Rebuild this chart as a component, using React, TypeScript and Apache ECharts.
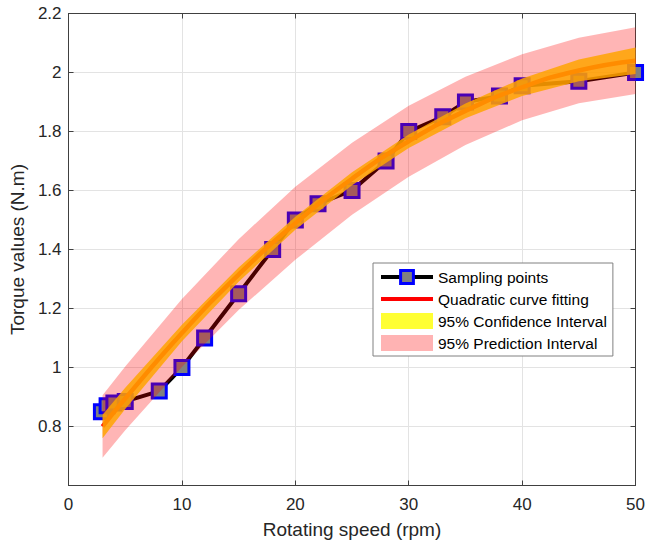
import React, { useEffect, useRef } from 'react';
import * as echarts from 'echarts';

// Sampling points
const sampleX = [2.9, 3.4, 4, 5, 8, 10, 12, 15, 18, 20, 22, 25, 28, 30, 33, 35, 38, 40, 45, 50];
const sampleY = [0.85, 0.87, 0.88, 0.885, 0.92, 1.0, 1.1, 1.25, 1.4, 1.5, 1.555, 1.6, 1.7, 1.8, 1.85, 1.9, 1.92, 1.955, 1.97, 2.0];

// Quadratic fit curve, read at these speeds
const fitX = [3, 5, 10, 15, 20, 25, 30, 35, 40, 45, 50];
const fitY = [0.8, 0.895, 1.117, 1.315, 1.489, 1.64, 1.767, 1.87, 1.95, 2.007, 2.04];

// 95% confidence interval bounds
const confUpper = [0.84, 0.931, 1.145, 1.339, 1.511, 1.662, 1.79, 1.895, 1.98, 2.044, 2.085];
const confLower = [0.76, 0.859, 1.089, 1.291, 1.467, 1.618, 1.744, 1.845, 1.92, 1.97, 1.995];

// 95% prediction interval bounds
const predUpper = [0.906, 1.003, 1.232, 1.435, 1.613, 1.762, 1.887, 1.986, 2.062, 2.118, 2.153];
const predLower = [0.694, 0.787, 1.002, 1.195, 1.365, 1.518, 1.647, 1.754, 1.838, 1.896, 1.927];

const legendNames = ['Sampling points', 'Quadratic curve fitting', '95% Confidence Interval', '95% Prediction Interval'];

const FONT = 'Liberation Sans, Arial, sans-serif';
const AXIS_COLOR = '#404040';

export default function App() {
  const ref = useRef<HTMLDivElement>(null);
  useEffect(() => {
    document.body.style.margin = '0';
    const chart = echarts.init(ref.current as HTMLDivElement, null, { renderer: 'svg' });

    const band = (upper: number[], lower: number[], fill: string) => (params: any, api: any) => {
      if (params.dataIndex !== 0) return null;
      const pts: number[][] = [];
      for (let i = 0; i < fitX.length; i++) pts.push(api.coord([fitX[i], upper[i]]));
      for (let i = fitX.length - 1; i >= 0; i--) pts.push(api.coord([fitX[i], lower[i]]));
      return { type: 'polygon', shape: { points: pts }, style: { fill, stroke: 'none' } };
    };

    const axisCommon = {
      axisLine: { show: true, onZero: false, lineStyle: { color: AXIS_COLOR, width: 1 } },
      axisTick: { show: true, inside: true, length: 5, lineStyle: { color: AXIS_COLOR } },
    };

    chart.setOption({
      animation: false,
      backgroundColor: '#ffffff',
      grid: { left: 63, right: 11.5, top: 13.5, bottom: 62.5, containLabel: false },
      xAxis: [
        {
          type: 'value', min: 0, max: 50, interval: 10, position: 'bottom',
          ...axisCommon,
          axisLabel: { fontSize: 17, color: '#262626', fontFamily: FONT, margin: 10 },
          splitLine: { show: true, lineStyle: { color: '#e3e3e3', width: 1 } },
          name: 'Rotating speed (rpm)', nameLocation: 'middle', nameGap: 34,
          nameTextStyle: { fontSize: 19, color: '#262626', fontFamily: FONT },
        },
        {
          type: 'value', min: 0, max: 50, interval: 10, position: 'top',
          ...axisCommon,
          axisLabel: { show: false }, splitLine: { show: false },
        },
      ],
      yAxis: [
        {
          type: 'value', min: 0.6, max: 2.2, interval: 0.2, position: 'left',
          ...axisCommon,
          axisLabel: {
            fontSize: 17, color: '#262626', fontFamily: FONT, margin: 7,
            formatter: (v: number) => (v < 0.65 ? '' : String(Math.round(v * 10) / 10)),
          },
          splitLine: { show: true, lineStyle: { color: '#e3e3e3', width: 1 } },
          name: 'Torque values (N.m)', nameLocation: 'middle', nameGap: 35,
          nameTextStyle: { fontSize: 19, color: '#262626', fontFamily: FONT },
        },
        {
          type: 'value', min: 0.6, max: 2.2, interval: 0.2, position: 'right',
          ...axisCommon,
          axisLabel: { show: false }, splitLine: { show: false },
        },
      ],
      legend: {
        orient: 'vertical', left: 373, top: 263,
        padding: [6, 6, 5, 6], itemGap: 6, itemWidth: 52, itemHeight: 16,
        backgroundColor: '#ffffff', borderColor: '#808080', borderWidth: 1,
        selectedMode: false,
        textStyle: { fontSize: 15.5, color: '#000', fontFamily: FONT, padding: [0, 0, 0, 0] },
        data: [
          { name: legendNames[0], itemStyle: { color: '#808080', borderColor: '#0000ff', borderWidth: 3 }, lineStyle: { color: '#000', width: 4 } },
          { name: legendNames[1], icon: 'path://M0,0 L52,0 L52,4 L0,4 Z', itemStyle: { color: '#ff0000' } },
          { name: legendNames[2], icon: 'rect', itemStyle: { color: '#ffff33' } },
          { name: legendNames[3], icon: 'rect', itemStyle: { color: '#ffb3b3' } },
        ],
      },
      series: [
        {
          name: legendNames[0], type: 'line', clip: false,
          data: sampleX.map((x, i) => [x, sampleY[i]]),
          symbol: 'rect', symbolSize: 14,
          lineStyle: { color: '#000', width: 4 },
          itemStyle: { color: '#808080', borderColor: '#0000ff', borderWidth: 3 },
          z: 2,
        },
        {
          name: legendNames[3], type: 'custom', silent: true,
          data: [[fitX[0], fitY[0]]], encode: { x: 0, y: 1 },
          itemStyle: { color: '#ffb3b3' },
          renderItem: band(predUpper, predLower, 'rgba(255,0,0,0.29)'),
          z: 3,
        },
        {
          name: legendNames[1], type: 'line', symbol: 'none', smooth: true,
          data: fitX.map((x, i) => [x, fitY[i]]),
          lineStyle: { color: '#ff0000', width: 4.5 },
          itemStyle: { color: '#ff0000' },
          z: 4,
        },
        {
          name: legendNames[2], type: 'custom', silent: true,
          data: [[fitX[0], fitY[0]]], encode: { x: 0, y: 1 },
          itemStyle: { color: '#ffff33' },
          renderItem: band(confUpper, confLower, 'rgba(255,165,0,0.85)'),
          z: 5,
        },
      ],
    });
    return () => chart.dispose();
  }, []);
  return <div ref={ref} style={{ width: 648, height: 548 }} />;
}
